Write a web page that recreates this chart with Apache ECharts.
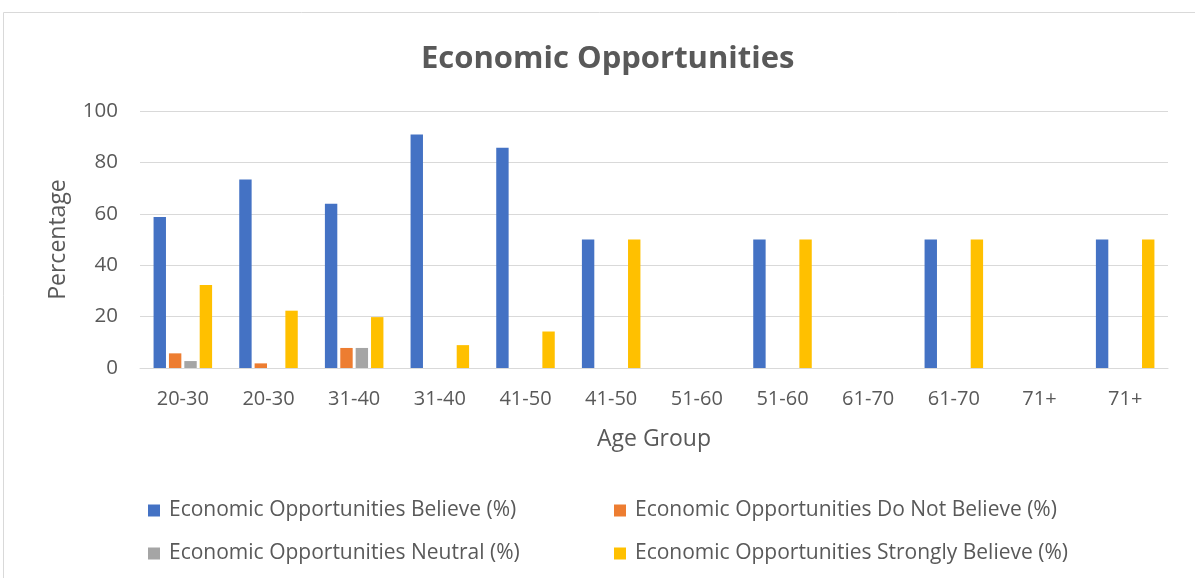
<!DOCTYPE html>
<html><head><meta charset="utf-8">
<script src="https://cdn.jsdelivr.net/npm/echarts@6/dist/echarts.min.js"></script>
<style>html,body{margin:0;padding:0;background:#fff}#c{width:1195px;height:578px}</style>
</head><body><div id="c"></div>
<script>
const categories = ['20-30','20-30','31-40','31-40','41-50','41-50','51-60','51-60','61-70','61-70','71+','71+'];
const believe = [58.8, 73.3, 63.9, 90.9, 85.7, 50, 0, 50, 0, 50, 0, 50];
const doNotBelieve = [5.7, 1.8, 7.8, 0, 0, 0, 0, 0, 0, 0, 0, 0];
const neutral = [2.7, 0, 7.8, 0, 0, 0, 0, 0, 0, 0, 0, 0];
const stronglyBelieve = [32.3, 22.3, 19.8, 8.9, 14.2, 50, 0, 50, 0, 50, 0, 50];
const seriesNames = ['Economic Opportunities Believe (%)','Economic Opportunities Do Not Believe (%)','Economic Opportunities Neutral (%)','Economic Opportunities Strongly Believe (%)'];
const colors = ['#4472C4','#ED7D31','#A5A5A5','#FFC000'];
const yTicks = [0, 20, 40, 60, 80, 100];

const font = "'Open Sans', 'Noto Sans', sans-serif";
const chart = echarts.init(document.getElementById('c'));
const values = [believe, doNotBelieve, neutral, stronglyBelieve];
const legendPos = [[143,495],[609,495],[143,538],[609,538]];
chart.setOption({
  animation:false,
  color: colors,
  graphic:[{type:'rect',shape:{x:3.5,y:12.5,width:1200,height:600},style:{fill:'none',stroke:'#d9d9d9',lineWidth:1}}],
  title:{text:'Economic Opportunities',left:416,top:39,textStyle:{fontFamily:font,fontSize:31,fontWeight:'bold',color:'#595959'}},
  legend: seriesNames.map((n,i)=>({data:[n],left:legendPos[i][0],top:legendPos[i][1],itemWidth:12,itemHeight:12,itemGap:10,icon:'rect',
    textStyle:{fontFamily:font,fontSize:21,color:'#595959',padding:[0,0,0,4]}})),
  grid:{left:140,right:27,top:111,bottom:210},
  xAxis:{type:'category',data:categories,
    axisLine:{lineStyle:{color:'#d9d9d9',width:1}},axisTick:{show:false},
    axisLabel:{fontFamily:font,fontSize:20,color:'#595959',margin:21},
    name:'Age Group',nameLocation:'middle',nameGap:60,nameTextStyle:{fontFamily:font,fontSize:23,color:'#595959'}},
  yAxis:{type:'value',min:yTicks[0],max:yTicks[yTicks.length-1],interval:20,
    axisLine:{show:false},axisTick:{show:false},
    splitLine:{lineStyle:{color:'#d9d9d9',width:1}},
    axisLabel:{fontFamily:font,fontSize:20.5,color:'#595959',margin:22},
    name:'Percentage',nameLocation:'middle',nameGap:70,nameTextStyle:{fontFamily:font,fontSize:23,color:'#595959'}},
  series: seriesNames.map((n,i)=>({name:n,type:'bar',data:values[i],barWidth:12.4,barGap:'24%',
    itemStyle:{color:colors[i]}}))
});
</script></body></html>
